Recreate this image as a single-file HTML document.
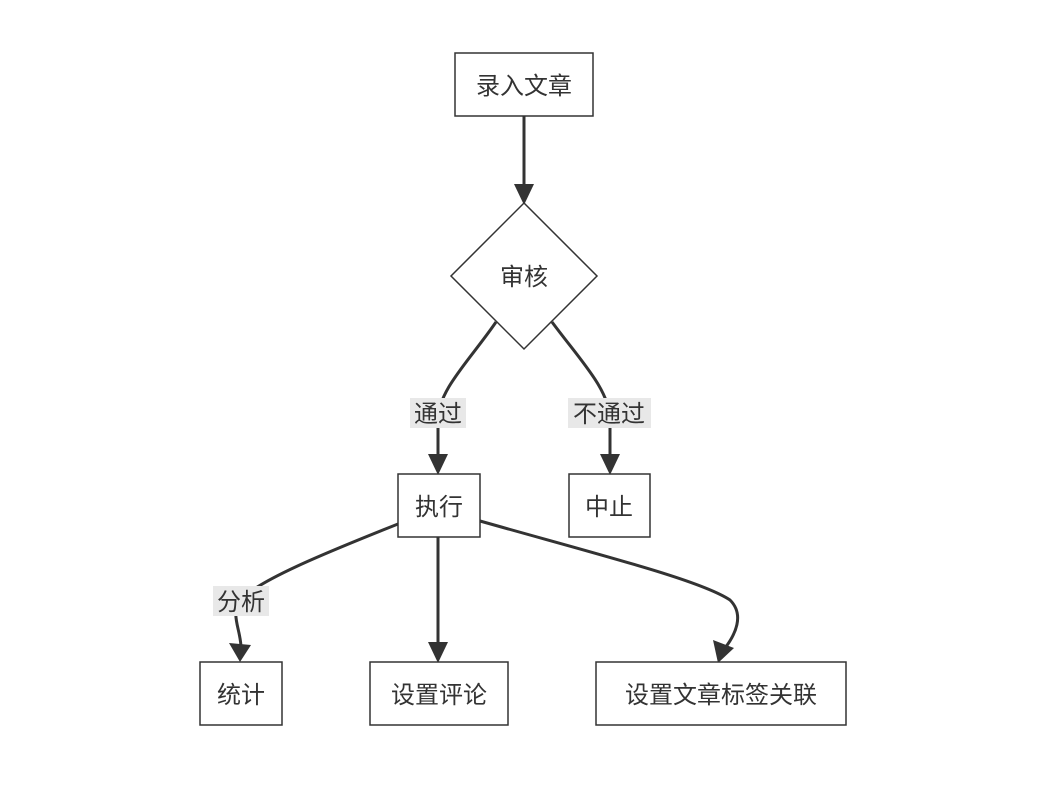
<!DOCTYPE html>
<html><head><meta charset="utf-8"><style>
html,body{margin:0;padding:0;background:#fff;}
body{width:1046px;height:781px;overflow:hidden;}
text{font-family:"Liberation Sans","Noto Sans CJK SC",sans-serif;font-size:24px;fill:#333;}
</style></head><body>
<svg width="1046" height="781" viewBox="0 0 1046 781" xmlns="http://www.w3.org/2000/svg">
<defs>
<marker id="a" viewBox="0 0 10 10" refX="9" refY="5" markerWidth="7" markerHeight="7" markerUnits="userSpaceOnUse" orient="auto" style="overflow:visible">
<path d="M0,0 L10,5 L0,10 z" fill="#333" transform="scale(2.2) translate(-5.5,-2.7)"/>
</marker>
</defs>
<g fill="none" stroke="#333" stroke-width="3">
<path d="M524,116 L524,190"/>
<path d="M496,322 C470,360 438,390 438,420 L438,460"/>
<path d="M552,322 C580,360 610,390 610,420 L610,460"/>
<path d="M398,524 C320,555 260,580 240,600 C230,615 241,630 241,648"/>
<path d="M438,537 L438,648"/>
<path d="M480,521 C600,555 700,580 730,600 C745,615 735,635 725,648"/>
</g>
<g fill="#333">
<path d="M514,184 L534,184 L524,205 z"/>
<path d="M428,454 L448,454 L438,475 z"/>
<path d="M600,454 L620,454 L610,475 z"/>
<path d="M229,643 L251,645 L240,662 z"/>
<path d="M428,642 L448,642 L438,663 z"/>
<path d="M713,640 L734,648 L718,663 z"/>
</g>
<g fill="#fff" stroke="#333" stroke-width="1.5">
<rect x="455" y="53" width="138" height="63"/>
<polygon points="524,203 597,276 524,349 451,276"/>
<rect x="398" y="474" width="82" height="63"/>
<rect x="569" y="474" width="81" height="63"/>
<rect x="200" y="662" width="82" height="63"/>
<rect x="370" y="662" width="138" height="63"/>
<rect x="596" y="662" width="250" height="63"/>
</g>
<g fill="#e8e8e8">
<rect x="410" y="398" width="56" height="30"/>
<rect x="568" y="398" width="83" height="30"/>
<rect x="213" y="586" width="56" height="30"/>
</g>
<g text-anchor="middle">
<text x="524" y="94">录入文章</text>
<text x="524" y="285">审核</text>
<text x="438" y="422">通过</text>
<text x="609" y="422">不通过</text>
<text x="439" y="515">执行</text>
<text x="609" y="515">中止</text>
<text x="241" y="610">分析</text>
<text x="241" y="703">统计</text>
<text x="439" y="703">设置评论</text>
<text x="721" y="703">设置文章标签关联</text>
</g>
</svg>
</body></html>
